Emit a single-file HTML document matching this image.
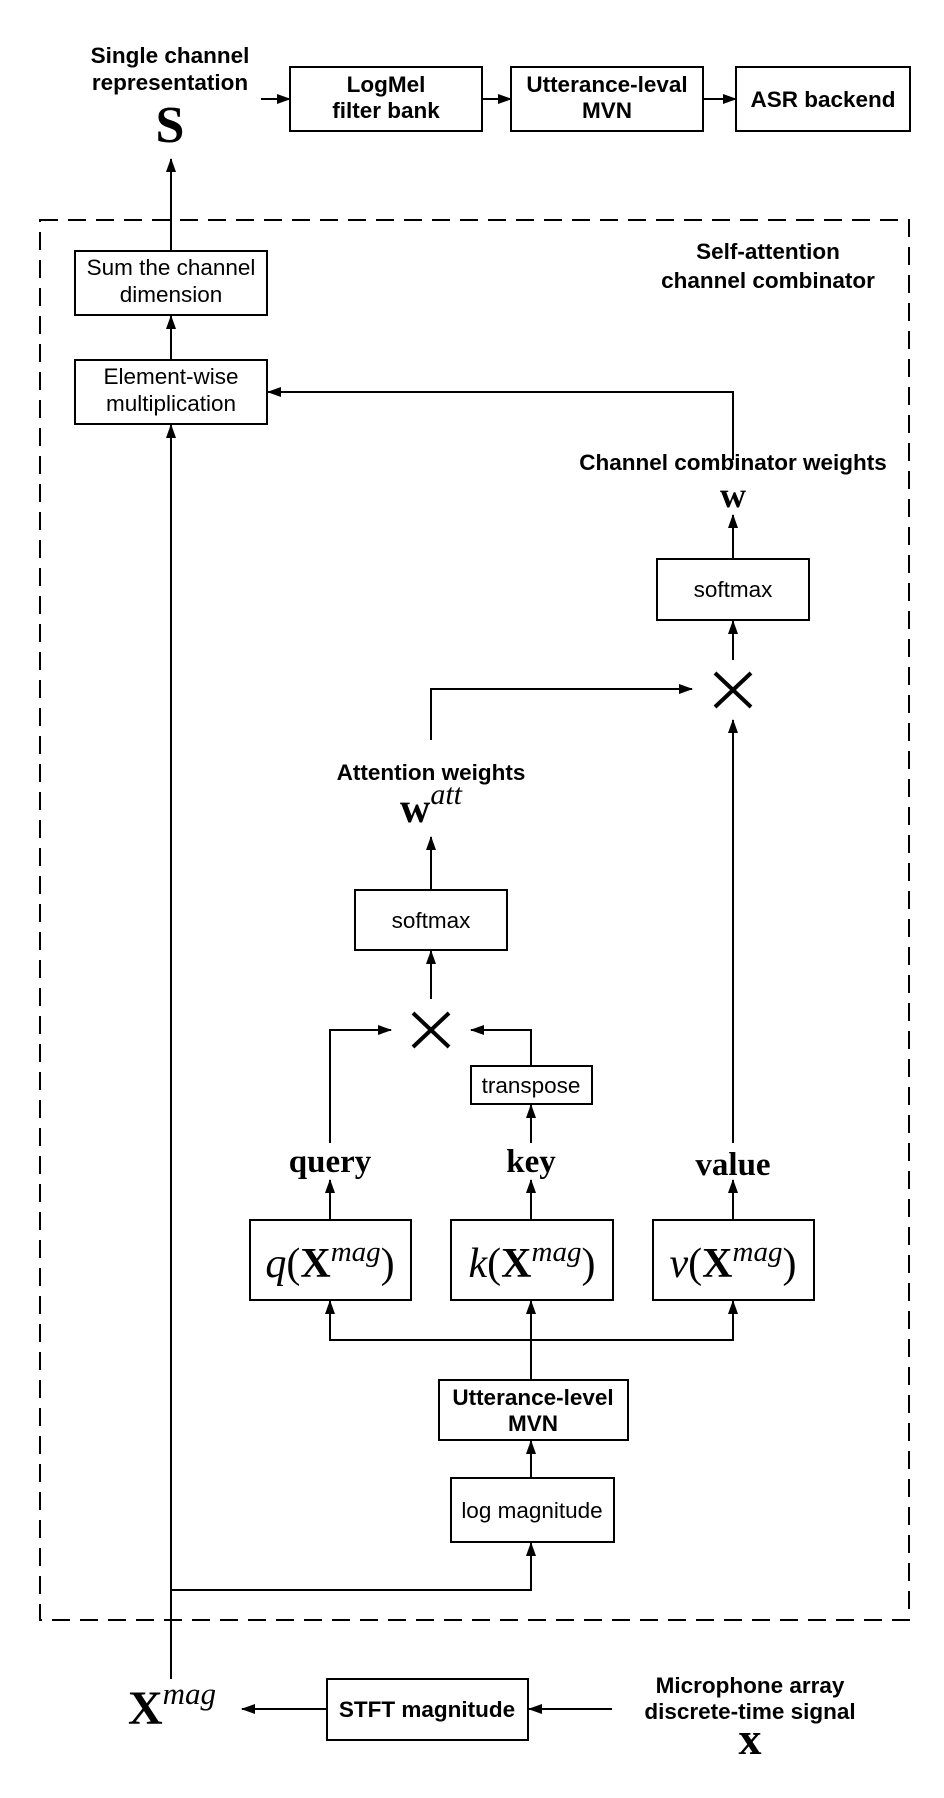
<!DOCTYPE html>
<html><head><meta charset="utf-8"><style>
html,body{margin:0;padding:0;background:#fff;}
svg{display:block;}
.s{font-family:"Liberation Sans",sans-serif;font-size:22.5px;fill:#000;text-anchor:middle;}
.b{font-weight:bold;}
.m{font-family:"Liberation Serif",serif;fill:#000;text-anchor:middle;}
</style></head><body>
<svg width="944" height="1798" viewBox="0 0 944 1798" xmlns="http://www.w3.org/2000/svg">
<defs>
<marker id="a" markerWidth="14" markerHeight="10" refX="13" refY="5" orient="auto" markerUnits="userSpaceOnUse">
<path d="M0,0 L14,5 L0,10 z" fill="#000"/></marker>
</defs>
<g fill="none" stroke="#000" stroke-width="2">
<rect x="40" y="220" width="869" height="1400" stroke-dasharray="18,10"/>
<rect x="290" y="67" width="192" height="64"/>
<rect x="511" y="67" width="192" height="64"/>
<rect x="736" y="67" width="174" height="64"/>
<rect x="75" y="251" width="192" height="64"/>
<rect x="75" y="360" width="192" height="64"/>
<rect x="657" y="559" width="152" height="61"/>
<rect x="355" y="890" width="152" height="60"/>
<rect x="471" y="1066" width="121" height="38"/>
<rect x="250" y="1220" width="161" height="80"/>
<rect x="451" y="1220" width="162" height="80"/>
<rect x="653" y="1220" width="161" height="80"/>
<rect x="439" y="1380" width="189" height="60"/>
<rect x="451" y="1478" width="163" height="64"/>
<rect x="327" y="1679" width="201" height="61"/>
</g>
<g fill="none" stroke="#000" stroke-width="2" marker-end="url(#a)">
<line x1="261" y1="99" x2="290" y2="99"/>
<line x1="482" y1="99" x2="511" y2="99"/>
<line x1="703" y1="99" x2="736" y2="99"/>
<line x1="171" y1="251" x2="171" y2="159"/>
<line x1="171" y1="360" x2="171" y2="316"/>
<line x1="171" y1="1679" x2="171" y2="425"/>
<polyline points="733,460 733,392 268,392"/>
<line x1="733" y1="559" x2="733" y2="515"/>
<line x1="733" y1="660" x2="733" y2="621"/>
<line x1="733" y1="1143" x2="733" y2="720"/>
<polyline points="431,740 431,689 692,689"/>
<line x1="431" y1="890" x2="431" y2="837"/>
<line x1="431" y1="999" x2="431" y2="951"/>
<polyline points="330,1143 330,1030 391,1030"/>
<polyline points="531,1066 531,1030 471,1030"/>
<line x1="531" y1="1143" x2="531" y2="1105"/>
<line x1="330" y1="1220" x2="330" y2="1180"/>
<line x1="531" y1="1220" x2="531" y2="1180"/>
<line x1="733" y1="1220" x2="733" y2="1180"/>
<polyline points="531,1340 330,1340 330,1301"/>
<polyline points="531,1340 733,1340 733,1301"/>
<line x1="531" y1="1380" x2="531" y2="1301"/>
<line x1="531" y1="1478" x2="531" y2="1441"/>
<polyline points="171,1590 531,1590 531,1543"/>
<line x1="327" y1="1709" x2="242" y2="1709"/>
<line x1="612" y1="1709" x2="529" y2="1709"/>
</g>
<g stroke="#000" stroke-width="4">
<line x1="715" y1="673" x2="751" y2="707"/><line x1="751" y1="673" x2="715" y2="707"/>
<line x1="413" y1="1013" x2="449" y2="1047"/><line x1="449" y1="1013" x2="413" y2="1047"/>
</g>
<text class="s b" x="170" y="63">Single channel</text>
<text class="s b" x="170" y="90">representation</text>
<text class="m" x="170" y="142" font-size="52" font-weight="bold">S</text>
<text class="s b" x="386" y="92">LogMel</text>
<text class="s b" x="386" y="118">filter bank</text>
<text class="s b" x="607" y="92">Utterance-leval</text>
<text class="s b" x="607" y="118">MVN</text>
<text class="s b" x="823" y="107">ASR backend</text>
<text class="s b" x="768" y="259" font-size="25">Self-attention</text>
<text class="s b" x="768" y="288" font-size="25">channel combinator</text>
<text class="s" x="171" y="275">Sum the channel</text>
<text class="s" x="171" y="302">dimension</text>
<text class="s" x="171" y="384">Element-wise</text>
<text class="s" x="171" y="411">multiplication</text>
<text class="s b" x="733" y="470">Channel combinator weights</text>
<text class="m" x="733" y="507" font-size="36" font-weight="bold">w</text>
<text class="s" x="733" y="597">softmax</text>
<text class="s b" x="431" y="780">Attention weights</text>
<text class="m" x="431" y="822" font-size="42"><tspan font-weight="bold">w</tspan><tspan font-style="italic" font-size="30" dy="-18">att</tspan></text>
<text class="s" x="431" y="928">softmax</text>
<text class="s" x="531" y="1093">transpose</text>
<text class="m" x="330" y="1172" font-size="33" font-weight="bold">query</text>
<text class="m" x="531" y="1172" font-size="33" font-weight="bold">key</text>
<text class="m" x="733" y="1175" font-size="33" font-weight="bold">value</text>
<text class="m" x="330" y="1277" font-size="42"><tspan font-style="italic">q</tspan>(<tspan font-weight="bold">X</tspan><tspan font-style="italic" font-size="29" dy="-16">mag</tspan><tspan dy="16">)</tspan></text>
<text class="m" x="532" y="1277" font-size="42"><tspan font-style="italic">k</tspan>(<tspan font-weight="bold">X</tspan><tspan font-style="italic" font-size="29" dy="-16">mag</tspan><tspan dy="16">)</tspan></text>
<text class="m" x="733" y="1277" font-size="42"><tspan font-style="italic">v</tspan>(<tspan font-weight="bold">X</tspan><tspan font-style="italic" font-size="29" dy="-16">mag</tspan><tspan dy="16">)</tspan></text>
<text class="s b" x="533" y="1405">Utterance-level</text>
<text class="s b" x="533" y="1431">MVN</text>
<text class="s" x="532" y="1518">log magnitude</text>
<text class="s b" x="427" y="1717">STFT magnitude</text>
<text class="s b" x="750" y="1693">Microphone array</text>
<text class="s b" x="750" y="1719">discrete-time signal</text>
<text class="m" x="750" y="1754" font-size="46" font-weight="bold">x</text>
<text class="m" x="172" y="1724" font-size="48"><tspan font-weight="bold">X</tspan><tspan font-style="italic" font-size="31" dy="-20">mag</tspan></text>
</svg>
</body></html>
